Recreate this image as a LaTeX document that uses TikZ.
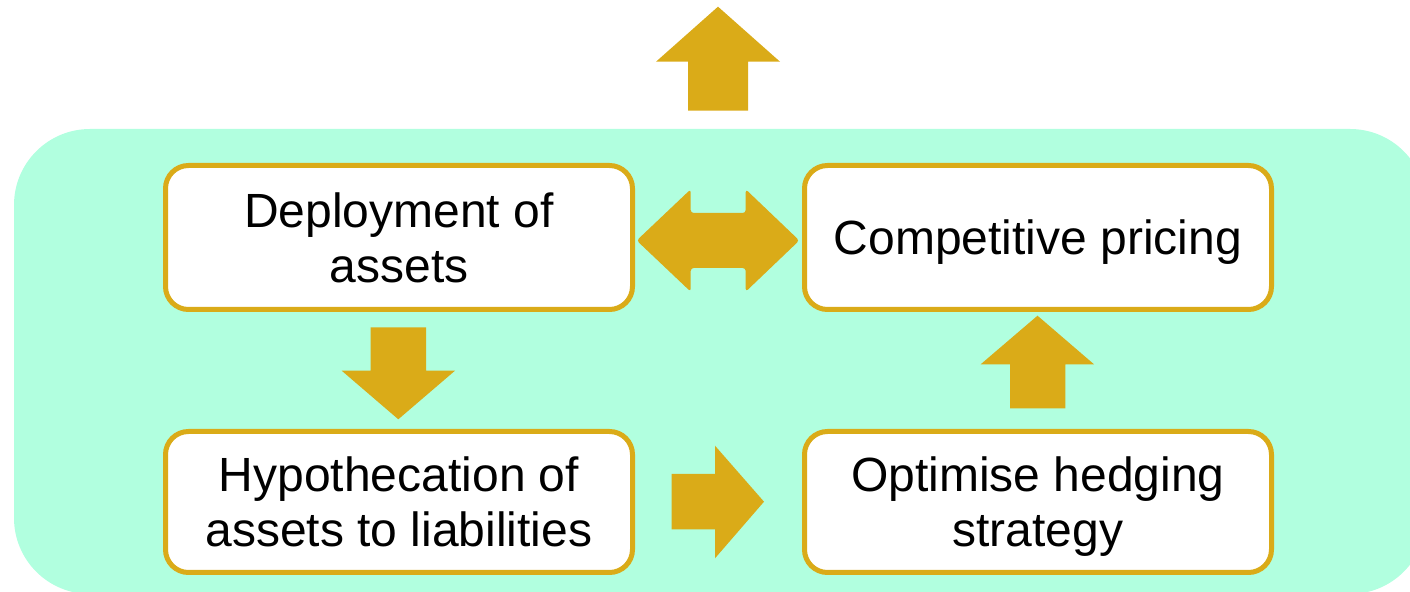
\documentclass[tikz,border=0pt]{standalone}
\usepackage{fontspec}
\setmainfont{Liberation Sans}
\definecolor{gold}{RGB}{218,171,24}
\definecolor{mint}{RGB}{177,255,223}
% last line of a label: keep its descenders out of the vertical centering
\newcommand{\flatline}[1]{\raisebox{0pt}[\height][0pt]{#1}}
\begin{document}
\begin{tikzpicture}[x=0.5pt,y=-0.5pt,
  stagebox/.style={draw=gold, line width=2.5pt, fill=white, rounded corners=11.5pt,
    minimum width=233.5pt, align=center, inner sep=0pt,
    font=\fontsize{24}{27.5}\selectfont},
  blockarrow/.style={fill=gold, draw=none}]
\useasboundingbox (0,0) rectangle (1410,592);
\begin{scope}
  \clip (0,0) rectangle (1410,592);
  \fill[mint, rounded corners=38pt] (14,129) rectangle (1426,594);
\end{scope}

% stages
\node[stagebox, minimum height=72pt] (deploy) at (399,237.5) {Deployment of\\\flatline{assets}};
\node[stagebox, minimum height=72pt] (pricing) at (1038,237.5) {\flatline{Competitive pricing}};
\node[stagebox, minimum height=70.5pt] (hypo) at (399,502) {Hypothecation of\\\flatline{assets to liabilities}};
\node[stagebox, minimum height=70.5pt] (hedge) at (1038,502) {Optimise hedging\\\flatline{strategy}};

% outgoing arrow above the panel
\fill[blockarrow] (718,6.7) -- (780,61.7) -- (748,61.7) -- (748,110.7)
  -- (688,110.7) -- (688,61.7) -- (656,61.7) -- cycle;

% deployment <-> pricing
\fill[blockarrow, rounded corners=1.5pt] (636.7,240.5) -- (690.7,189.3) -- (690.7,213)
  -- (745.7,213) -- (745.7,189.3) -- (799.3,240.5) -- (745.7,291.7) -- (745.7,268)
  -- (690.7,268) -- (690.7,291.7) -- cycle;

% deployment -> hypothecation
\fill[blockarrow] (398.3,419.3) -- (455,370.7) -- (426,370.7) -- (426,327.3)
  -- (370.7,327.3) -- (370.7,370.7) -- (341.7,370.7) -- cycle;

% hypothecation -> hedging
\fill[blockarrow] (764,501.7) -- (715,445.7) -- (715,474) -- (671.7,474)
  -- (671.7,529.3) -- (715,529.3) -- (715,558.3) -- cycle;

% hedging -> pricing
\fill[blockarrow] (1037.5,315.7) -- (1094,364.3) -- (1065.3,364.3) -- (1065.3,408.3)
  -- (1010,408.3) -- (1010,364.3) -- (980.7,364.3) -- cycle;
\end{tikzpicture}
\end{document}
